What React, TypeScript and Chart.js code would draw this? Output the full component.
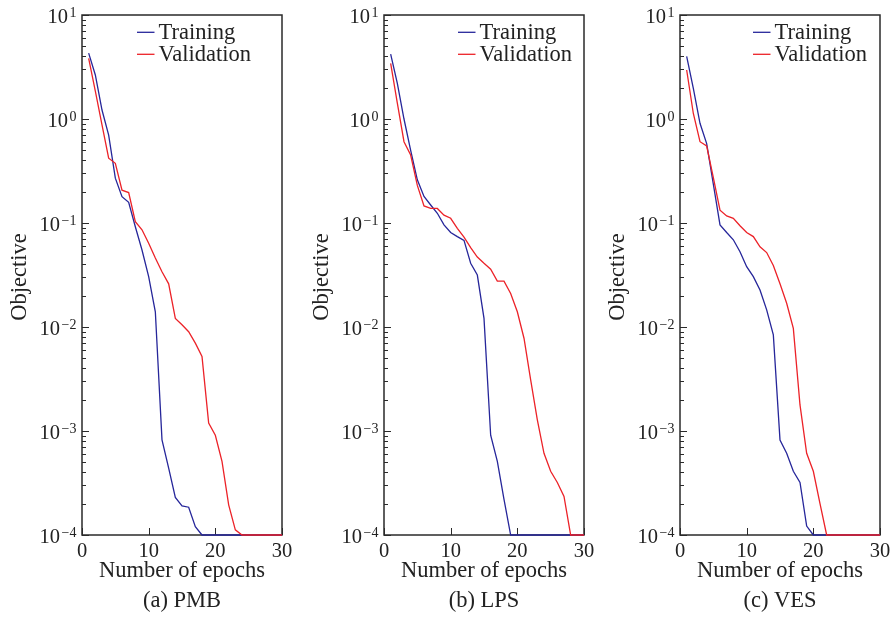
import React, { useEffect, useRef } from "react";
import { Chart, registerables } from "chart.js";

Chart.register(...registerables);

// ---------------- data ----------------
const epochs = [1, 2, 3, 4, 5, 6, 7, 8, 9, 10, 11, 12, 13, 14, 15, 16, 17, 18, 19, 20, 21, 22, 23, 24, 25, 26, 27, 28, 29, 30];
const xTickValues = [0, 10, 20, 30];
const yTickValues = [1e-4, 1e-3, 1e-2, 1e-1, 1, 10];
const seriesNames = ["Training", "Validation"];
const captions = ["(a) PMB", "(b) LPS", "(c) VES"];
const xAxisTitle = "Number of epochs";
const yAxisTitle = "Objective";

const pmbTraining = [4.3, 2.65, 1.22, 0.7, 0.27, 0.179, 0.158, 0.092, 0.055, 0.0305, 0.014, 8.2e-4, 4.4e-4, 2.3e-4, 1.9e-4, 1.85e-4, 1.2e-4, 1e-4, 1e-4, 1e-4, 1e-4, 1e-4, 1e-4, 1e-4, 1e-4, 1e-4, 1e-4, 1e-4, 1e-4, 1e-4];
const pmbValidation = [3.83, 1.85, 0.88, 0.42, 0.375, 0.207, 0.196, 0.103, 0.086, 0.064, 0.046, 0.034, 0.026, 0.0121, 0.0105, 0.009, 0.007, 0.0052, 1.19e-3, 9.1e-4, 5.1e-4, 1.95e-4, 1.12e-4, 1e-4, 1e-4, 1e-4, 1e-4, 1e-4, 1e-4, 1e-4];

const lpsTraining = [4.2, 2.2, 1.0, 0.5, 0.26, 0.18, 0.149, 0.124, 0.096, 0.081, 0.074, 0.068, 0.041, 0.0316, 0.0121, 9.1e-4, 5.1e-4, 2.2e-4, 1e-4, 1e-4, 1e-4, 1e-4, 1e-4, 1e-4, 1e-4, 1e-4, 1e-4, 1e-4, 1e-4, 1e-4];
const lpsValidation = [3.43, 1.42, 0.605, 0.45, 0.23, 0.146, 0.138, 0.138, 0.119, 0.111, 0.089, 0.073, 0.058, 0.047, 0.041, 0.036, 0.0276, 0.0276, 0.021, 0.014, 0.0078, 0.0031, 1.28e-3, 6.1e-4, 4.1e-4, 3.2e-4, 2.35e-4, 1e-4, 1e-4, 1e-4];

const vesTraining = [4.0, 1.97, 0.91, 0.58, 0.237, 0.096, 0.081, 0.069, 0.053, 0.038, 0.0305, 0.0227, 0.0146, 0.0084, 8.2e-4, 6.1e-4, 4.1e-4, 3.2e-4, 1.22e-4, 1e-4, 1e-4, 1e-4, 1e-4, 1e-4, 1e-4, 1e-4, 1e-4, 1e-4, 1e-4, 1e-4];
const vesValidation = [2.96, 1.13, 0.605, 0.55, 0.273, 0.133, 0.117, 0.111, 0.094, 0.081, 0.074, 0.059, 0.052, 0.039, 0.026, 0.0169, 0.0097, 1.78e-3, 6.1e-4, 4.1e-4, 2.0e-4, 1e-4, 1e-4, 1e-4, 1e-4, 1e-4, 1e-4, 1e-4, 1e-4, 1e-4];

// ---------------- style ----------------
const FONT = "'Liberation Serif', 'DejaVu Serif', 'Times New Roman', serif";
const BLUE = "#26269a";
const RED = "#ec2228";
const INK = "#2a2a2a";
const TEXT = "#222222";

const panels = [
  { caption: captions[0], training: pmbTraining, validation: pmbValidation, canvasLeft: 0, width: 298, plotLeft: 82, plotRight: 282, legendOffset: 55 },
  { caption: captions[1], training: lpsTraining, validation: lpsValidation, canvasLeft: 298, width: 298, plotLeft: 384, plotRight: 584, legendOffset: 74 },
  { caption: captions[2], training: vesTraining, validation: vesValidation, canvasLeft: 596, width: 297, plotLeft: 680, plotRight: 880, legendOffset: 73 },
];

const PLOT_TOP = 15;
const PLOT_BOTTOM = 535;
const HEIGHT = 617;

const decorPlugin = {
  id: "decor",
  beforeDatasetsDraw(chart: any) {
    const { ctx, chartArea: a, scales } = chart;
    const xs = scales.x;
    const ys = scales.y;
    ctx.save();
    ctx.strokeStyle = INK;
    ctx.lineWidth = 1.5;
    ctx.strokeRect(a.left, a.top, a.right - a.left, a.bottom - a.top);
    ctx.lineWidth = 1;
    ctx.beginPath();
    for (let i = 0; i < yTickValues.length; i++) {
      const v = yTickValues[i];
      const py = Math.round(ys.getPixelForValue(v)) + 0.5;
      ctx.moveTo(a.left, py);
      ctx.lineTo(a.left + 7, py);
      if (i < yTickValues.length - 1) {
        for (let m = 2; m <= 9; m++) {
          const pm = Math.round(ys.getPixelForValue(v * m)) + 0.5;
          ctx.moveTo(a.left, pm);
          ctx.lineTo(a.left + 4, pm);
        }
      }
    }
    for (const v of xTickValues) {
      const px = Math.round(xs.getPixelForValue(v)) + 0.5;
      ctx.moveTo(px, a.bottom);
      ctx.lineTo(px, a.bottom - 7);
    }
    ctx.stroke();
    ctx.restore();
  },
  afterDraw(chart: any, _args: any, opts: any) {
    const { ctx, chartArea: a, scales } = chart;
    const xs = scales.x;
    const ys = scales.y;
    ctx.save();
    ctx.fillStyle = TEXT;
    for (const v of yTickValues) {
      const k = Math.round(Math.log10(v));
      const py = ys.getPixelForValue(v);
      const expText = k < 0 ? "\u2212" + Math.abs(k) : String(k);
      ctx.font = `14px ${FONT}`;
      const ew = ctx.measureText(expText).width;
      const right = a.left - 5.5;
      ctx.textAlign = "left";
      ctx.textBaseline = "alphabetic";
      ctx.fillText(expText, right - ew, py + 1.8);
      ctx.font = `20.5px ${FONT}`;
      ctx.textAlign = "right";
      ctx.fillText("10", right - ew - 1.5, py + 7.7);
    }
    ctx.font = `20.5px ${FONT}`;
    ctx.textAlign = "center";
    ctx.textBaseline = "alphabetic";
    for (const v of xTickValues) {
      ctx.fillText(String(v), xs.getPixelForValue(v), a.bottom + 21.7);
    }
    const cx = (a.left + a.right) / 2;
    ctx.font = `22.5px ${FONT}`;
    ctx.fillText(xAxisTitle, cx, a.bottom + 41.7);
    ctx.fillText(opts.caption, cx, a.bottom + 71.7);
    ctx.save();
    ctx.translate(a.left - 56.5, (a.top + a.bottom) / 2 + 2);
    ctx.rotate(-Math.PI / 2);
    ctx.textAlign = "center";
    ctx.fillText(yAxisTitle, 0, 0);
    ctx.restore();
    const lx = a.left + opts.legendOffset;
    chart.data.datasets.forEach((ds: any, i: number) => {
      const ry = a.top + 17.3 + i * 22;
      ctx.strokeStyle = ds.borderColor;
      ctx.lineWidth = 1.3;
      ctx.beginPath();
      ctx.moveTo(lx, ry);
      ctx.lineTo(lx + 17.5, ry);
      ctx.stroke();
      ctx.fillStyle = TEXT;
      ctx.font = `22.5px ${FONT}`;
      ctx.textAlign = "left";
      ctx.textBaseline = "alphabetic";
      ctx.fillText(ds.label, lx + 21.5, ry + 7);
    });
    ctx.restore();
  },
};

function Panel(props: any) {
  const { p } = props;
  const ref = useRef<HTMLCanvasElement | null>(null);
  useEffect(() => {
    let chart: any = null;
    let cancelled = false;
    const build = () => {
      if (cancelled || !ref.current) return;
      chart = new Chart(ref.current, {
        type: "line",
        data: {
          datasets: [
            {
              label: seriesNames[0],
              data: epochs.map((e, i) => ({ x: e, y: p.training[i] })),
              borderColor: BLUE,
              borderWidth: 1.3,
              pointRadius: 0,
              tension: 0,
              fill: false,
              clip: 4,
              order: 1,
            },
            {
              label: seriesNames[1],
              data: epochs.map((e, i) => ({ x: e, y: p.validation[i] })),
              borderColor: RED,
              borderWidth: 1.3,
              pointRadius: 0,
              tension: 0,
              fill: false,
              clip: 4,
              order: 0,
            },
          ],
        },
        options: {
          responsive: false,
          animation: false,
          devicePixelRatio: 1,
          layout: {
            padding: {
              left: p.plotLeft - p.canvasLeft,
              right: p.canvasLeft + p.width - p.plotRight,
              top: PLOT_TOP,
              bottom: HEIGHT - PLOT_BOTTOM,
            },
          },
          scales: {
            x: { type: "linear", min: 0, max: 30, display: false },
            y: { type: "logarithmic", min: 1e-4, max: 10, display: false },
          },
          plugins: {
            legend: { display: false },
            tooltip: { enabled: false },
            decor: { caption: p.caption, legendOffset: p.legendOffset },
          } as any,
        },
        plugins: [decorPlugin],
      } as any);
    };
    const fonts: any = (document as any).fonts;
    if (fonts && fonts.load) {
      Promise.all([
        fonts.load(`20px 'Liberation Serif'`, "10Trainig"),
        fonts.load(`22px 'Liberation Serif'`, "Validation"),
      ])
        .catch(() => null)
        .then(() => build());
    } else {
      build();
    }
    return () => {
      cancelled = true;
      if (chart) chart.destroy();
    };
  }, [p]);
  return (
    <canvas
      ref={ref}
      width={p.width}
      height={HEIGHT}
      style={{ position: "absolute", left: p.canvasLeft, top: 0, width: p.width, height: HEIGHT }}
    />
  );
}

export default function App() {
  return (
    <div style={{ position: "absolute", left: 0, top: 0, width: 893, height: HEIGHT, background: "#ffffff", overflow: "hidden" }}>
      <span style={{ fontFamily: FONT, position: "absolute", left: -1000, top: -1000 }}>10 Training Validation</span>
      {panels.map((p, i) => (
        <Panel key={i} p={p} />
      ))}
    </div>
  );
}
